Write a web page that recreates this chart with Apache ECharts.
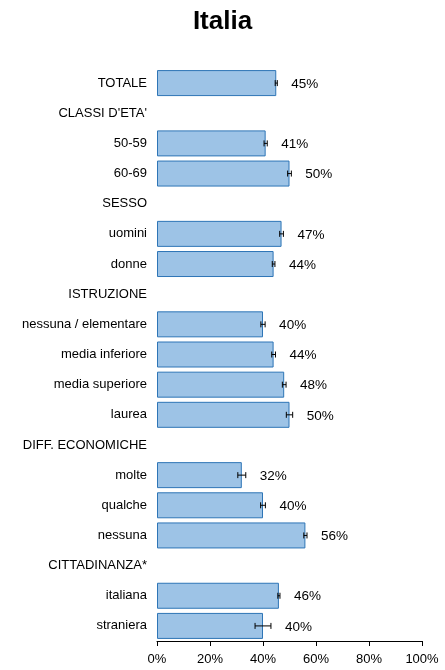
<!DOCTYPE html>
<html>
<head>
<meta charset="utf-8">
<script src="https://cdn.jsdelivr.net/npm/echarts@6/dist/echarts.min.js"></script>
<style>
html,body{margin:0;padding:0;background:#fff;}
#chart{width:445px;height:670px;}
</style>
</head>
<body>
<div id="chart"></div>
<script>
const categories = ["TOTALE","CLASSI D'ETA'","50-59","60-69","SESSO","uomini","donne","ISTRUZIONE","nessuna / elementare","media inferiore","media superiore","laurea","DIFF. ECONOMICHE","molte","qualche","nessuna","CITTADINANZA*","italiana","straniera"];
const values = [45, null, 41, 50, null, 47, 44, null, 40, 44, 48, 50, null, 32, 40, 56, null, 46, 40];
const errors = [0.4, null, 0.6, 0.7, null, 0.7, 0.5, null, 0.8, 0.7, 0.7, 1.2, null, 1.5, 0.9, 0.6, null, 0.4, 3.0];
const xTicks = [0, 20, 40, 60, 80, 100];

const FONT = '"Liberation Sans", Arial, sans-serif';
const chart = echarts.init(document.getElementById('chart'), null, {renderer: 'canvas'});

const errData = [];
values.forEach((v, i) => { if (v !== null) errData.push([i, v, errors[i]]); });

chart.setOption({
  animation: false,
  title: {
    text: 'Italia', left: 'center', top: 4,
    textStyle: {fontFamily: FONT, fontSize: 26, fontWeight: 'bold', color: '#000'}
  },
  grid: {left: 157, right: 23, top: 68, bottom: 29, containLabel: false},
  xAxis: {
    type: 'value', min: xTicks[0], max: xTicks[xTicks.length - 1], interval: 20,
    axisLine: {show: true, lineStyle: {color: '#000', width: 1}},
    axisTick: {show: true, length: 5, lineStyle: {color: '#000'}},
    splitLine: {show: false},
    axisLabel: {formatter: '{value}%', fontFamily: FONT, fontSize: 13, color: '#000', margin: 12}
  },
  yAxis: {
    type: 'category', data: categories, inverse: true,
    axisLine: {show: false}, axisTick: {show: false},
    axisLabel: {fontFamily: FONT, fontSize: 13, color: '#000', margin: 10}
  },
  series: [
    {
      type: 'bar', data: values, barWidth: 26,
      itemStyle: {color: '#9dc3e6', borderColor: '#2e75b6', borderWidth: 1}
    },
    {
      type: 'custom',
      data: errData,
      encode: {x: 1, y: 0},
      renderItem: function (params, api) {
        const idx = api.value(0), v = api.value(1), e = api.value(2);
        const lo = api.coord([v - e, idx]);
        const hi = api.coord([v + e, idx]);
        const y = lo[1];
        const cap = 3;
        return {
          type: 'group',
          children: [
            {type: 'line', shape: {x1: lo[0], y1: y, x2: hi[0], y2: y}, style: {stroke: '#000', lineWidth: 1}},
            {type: 'line', shape: {x1: lo[0], y1: y - cap, x2: lo[0], y2: y + cap}, style: {stroke: '#000', lineWidth: 1}},
            {type: 'line', shape: {x1: hi[0], y1: y - cap, x2: hi[0], y2: y + cap}, style: {stroke: '#000', lineWidth: 1}},
            {type: 'text', style: {x: hi[0] + 14, y: y + 1, text: Math.round(v) + '%', fill: '#000',
              font: '13.5px ' + FONT, textAlign: 'left', textVerticalAlign: 'middle'}}
          ]
        };
      },
      z: 5
    }
  ]
});
</script>
</body>
</html>
